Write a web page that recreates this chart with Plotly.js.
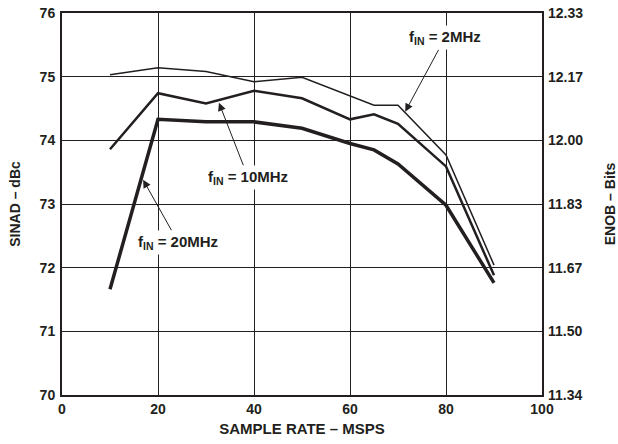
<!DOCTYPE html>
<html><head><meta charset="utf-8">
<script src="https://cdn.plot.ly/plotly-3.0.1.min.js"></script>
<style>html,body{margin:0;padding:0;background:#fff}#chart{width:618px;height:444px}</style>
</head><body><div id="chart"></div>
<script>
const sampleRate = [10, 20, 30, 40, 50, 60, 65, 70, 80, 90];
const sinad2MHz  = [75.03, 75.14, 75.08, 74.92, 74.99, 74.70, 74.55, 74.55, 73.77, 72.04];
const sinad10MHz = [73.86, 74.74, 74.58, 74.78, 74.66, 74.33, 74.41, 74.26, 73.59, 71.88];
const sinad20MHz = [71.66, 74.33, 74.29, 74.29, 74.19, 73.95, 73.85, 73.63, 72.98, 71.76];
const leftTicks  = [70, 71, 72, 73, 74, 75, 76];
const enobLabels = ["11.34", "11.50", "11.67", "11.83", "12.00", "12.17", "12.33"];
const xTicks = [0, 20, 40, 60, 80, 100];

const ink = '#231f20';
const fontFam = 'Liberation Sans, Arial, Helvetica, sans-serif';
const tf = {family: fontFam, size: 14, color: ink, weight: 'bold'};
const ytf = {family: fontFam, size: 14, color: ink, weight: 'bold'};
const xtf = {family: fontFam, size: 15, color: ink, weight: 'bold'};

const traces = [
  {x: sampleRate, y: sinad2MHz, mode: 'lines', line: {color: ink, width: 1.5}, hoverinfo: 'skip'},
  {x: sampleRate, y: sinad10MHz, mode: 'lines', line: {color: ink, width: 2.5}, hoverinfo: 'skip'},
  {x: sampleRate, y: sinad20MHz, mode: 'lines', line: {color: ink, width: 3.5}, hoverinfo: 'skip'},
  {x: sampleRate, y: sinad2MHz, yaxis: 'y2', mode: 'lines', line: {color: 'rgba(0,0,0,0)', width: 0}, hoverinfo: 'skip'}
];

function ann(text, x, y, ax, ay) {
  return {text: text, x: x, y: y, ax: ax, ay: ay, xref: 'x', yref: 'y', axref: 'x', ayref: 'y',
    showarrow: true, arrowhead: 2, arrowsize: 1.6, arrowwidth: 1, arrowcolor: ink,
    bgcolor: '#ffffff', borderpad: 2,
    font: {family: fontFam, size: 15, color: ink, weight: 'bold'}};
}

const layout = {
  width: 618, height: 444,
  margin: {l: 62, r: 76, t: 13, b: 49},
  paper_bgcolor: '#fff', plot_bgcolor: '#fff',
  showlegend: false,
  xaxis: {range: [0, 100], tickvals: xTicks, showgrid: true, gridcolor: ink, gridwidth: 1,
    zeroline: false, showline: true, linecolor: ink, linewidth: 2, mirror: true, ticks: '',
    tickfont: tf,
    title: {text: 'SAMPLE RATE – MSPS', font: xtf, standoff: 8}},
  yaxis: {range: [70, 76], tickvals: leftTicks, showgrid: true, gridcolor: ink, gridwidth: 1,
    zeroline: false, showline: true, linecolor: ink, linewidth: 2, mirror: true, ticks: '',
    tickfont: tf, ticklabelstandoff: 2,
    title: {text: 'SINAD – dBc', font: ytf, standoff: 16}},
  yaxis2: {range: [70, 76], overlaying: 'y', side: 'right', tickvals: leftTicks, ticktext: enobLabels,
    showgrid: false, zeroline: false, showline: false, ticks: '', tickfont: tf, ticklabelstandoff: 5,
    title: {text: 'ENOB – Bits', font: ytf, standoff: 22}},
  annotations: [
    ann('f<sub>IN</sub> = 2MHz', 71.5, 74.45, 79.8, 75.61),
    ann('f<sub>IN</sub> = 10MHz', 32.7, 74.59, 38.75, 73.42),
    ann('f<sub>IN</sub> = 20MHz', 16.9, 73.38, 24.2, 72.40)
  ]
};

Plotly.newPlot('chart', traces, layout, {staticPlot: true, displayModeBar: false});
</script></body></html>
